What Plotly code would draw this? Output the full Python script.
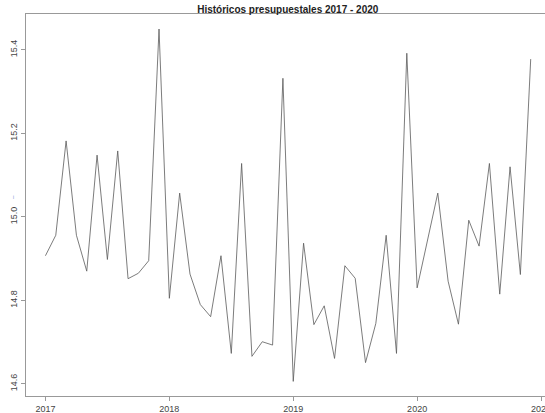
import plotly.graph_objects as go

start_year = 2017
n_months = 48
values = [14.907, 14.956, 15.182, 14.956, 14.870, 15.148, 14.898, 15.158,
          14.852, 14.865, 14.895, 15.450, 14.805, 15.057, 14.863, 14.790,
          14.761, 14.907, 14.673, 15.128, 14.666, 14.701, 14.693, 15.332,
          14.606, 14.937, 14.742, 14.787, 14.661, 14.883, 14.853, 14.651,
          14.745, 14.956, 14.673, 15.392, 14.830, 14.944, 15.057, 14.846,
          14.743, 14.992, 14.930, 15.128, 14.815, 15.120, 14.862, 15.378]
x_ticks = [2017, 2018, 2019, 2020, 2021]
x_tick_labels = ["2017", "2018", "2019", "2020", "2021"]
y_ticks = [14.6, 14.8, 15.0, 15.2, 15.4]
y_tick_labels = ["14.6", "14.8", "15.0", "15.2", "15.4"]
title = "Históricos presupuestales 2017 - 2020"

times = [start_year + i / 12 for i in range(n_months)]

fig = go.Figure()
fig.add_trace(go.Scatter(x=times, y=values, mode="lines",
                         line=dict(color="#5a5a5a", width=0.8),
                         showlegend=False, hoverinfo="skip"))

axis_font = dict(family="Liberation Sans, Arial, sans-serif", size=9, color="#444")
fig.update_layout(
    width=545, height=413,
    margin=dict(l=26, r=0, t=14, b=17),
    paper_bgcolor="white", plot_bgcolor="white",
    hovermode=False,
    title=dict(text="<b>" + title + "</b>", x=0.528, xanchor="center",
               xref="container", yref="container",
               y=0.976, yanchor="middle",
               font=dict(family="Liberation Sans, Arial, sans-serif", size=10, color="#222")),
    xaxis=dict(range=[2016.843, 2021.032], tickvals=x_ticks, ticktext=x_tick_labels,
               automargin=False, ticklabeloverflow="allow",
               showgrid=False, zeroline=False, showline=True, linecolor="#999",
               linewidth=1, mirror=True, ticks="outside", ticklen=4, tickcolor="#999",
               tickfont=axis_font),
    yaxis=dict(range=[14.571, 15.486], tickvals=y_ticks, ticktext=y_tick_labels,
               automargin=False,
               showgrid=False, zeroline=False, showline=True, linecolor="#999",
               linewidth=1, ticks="outside", ticklen=4, tickcolor="#999",
               tickangle=-90, tickfont=axis_font),
)
fig.add_annotation(xref="paper", yref="paper", x=-0.036, y=0.52, text="~",
                   showarrow=False, textangle=-90,
                   font=dict(size=7, color="#7a9ad8"))
fig.write_html("out.html", config={"displayModeBar": False, "staticPlot": True},
               post_script="document.body.style.margin='0';document.body.style.overflow='hidden';")
